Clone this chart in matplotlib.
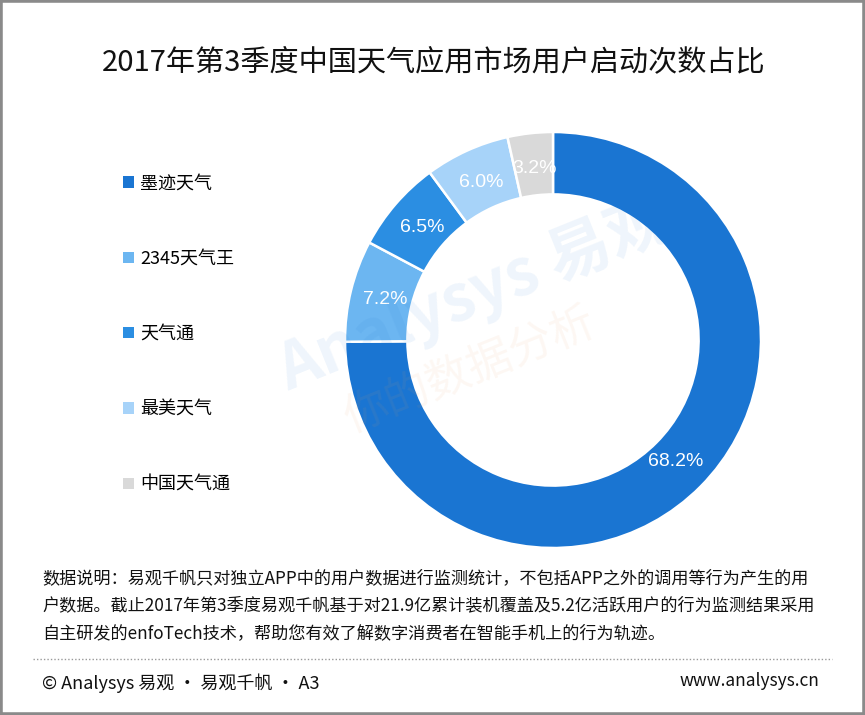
import matplotlib.pyplot as plt
import numpy as np
from matplotlib.patches import Rectangle, Patch
from matplotlib.lines import Line2D

plt.rcParams['font.family'] = ['Noto Sans CJK SC', 'DejaVu Sans']

# data
apps = ['墨迹天气', '2345天气王', '天气通', '最美天气', '中国天气通']
share = [68.2, 7.2, 6.5, 6.0, 3.2]
colors = ['#1a75d2', '#6cb6f1', '#2b8ee2', '#a7d3f9', '#d9d9d9']

title = '2017年第3季度中国天气应用市场用户启动次数占比'
note_lines = ['数据说明：易观千帆只对独立APP中的用户数据进行监测统计，不包括APP之外的调用等行为产生的用',
              '户数据。截止2017年第3季度易观千帆基于对21.9亿累计装机覆盖及5.2亿活跃用户的行为监测结果采用',
              '自主研发的enfoTech技术，帮助您有效了解数字消费者在智能手机上的行为轨迹。']
footer_left = '© Analysys 易观 · 易观千帆 · A3'
footer_right = 'www.analysys.cn'

W, H = 865, 715
fig = plt.figure(figsize=(W/100, H/100), dpi=100)

def fx(px): return px / W
def fy(py): return 1 - py / H

# faint watermark
fig.text(fx(475), fy(295), 'Analysys 易观', fontsize=46, color='#1a75d2', alpha=0.07,
         rotation=22, ha='center', va='center', weight='bold', zorder=0)
fig.text(fx(470), fy(370), '你的数据分析', fontsize=32, color='#e8a060', alpha=0.08,
         rotation=22, ha='center', va='center', zorder=0)

# donut
cx, cy, r = 553, 340, 208
ax = fig.add_axes([fx(cx - r), fy(cy + r), 2*r/W, 2*r/H])
wedges, _ = ax.pie(share, colors=colors, startangle=90, counterclock=False,
                   radius=1.0, wedgeprops=dict(width=0.3, edgecolor='white', linewidth=1.8))
ax.set_xlim(-1, 1)
ax.set_ylim(-1, 1)
ax.set_aspect('equal')
ax.axis('off')

for w, v in zip(wedges, share):
    ang = np.deg2rad((w.theta1 + w.theta2) / 2)
    ax.text(0.83*np.cos(ang), 0.83*np.sin(ang), f'{v:.1f}%', color='white',
            fontsize=14, ha='center', va='center', family='Liberation Sans')

fig.text(fx(434), fy(62), title, fontsize=21, ha='center', va='center', color='#111111')

handles = [Patch(facecolor=w.get_facecolor(), edgecolor='none') for w in wedges]
fig.legend(handles, apps, loc='upper left', bbox_to_anchor=(fx(116), fy(167)),
           frameon=False, fontsize=13, labelspacing=3.18, handlelength=0.6,
           handleheight=0.6, handletextpad=0.35, borderaxespad=0)

for i, line in enumerate(note_lines):
    fig.text(fx(42), fy(578 + i*27.5), line, fontsize=12.35, va='center', ha='left', color='#111111')

fig.add_artist(Line2D([fx(33), fx(832)], [fy(659), fy(659)], color='#999999',
                      linestyle=(0, (1, 1.5)), linewidth=1))
fig.text(fx(42), fy(683), footer_left, fontsize=13, va='center', ha='left', color='#111111')
fig.text(fx(819), fy(681), footer_right, fontsize=12.5, va='center', ha='right', color='#111111')

# outer frame
fig.add_artist(Rectangle((0, 0), 1, 1, transform=fig.transFigure, fill=False,
                         edgecolor='#8a8a8a', linewidth=4))

fig.savefig('out.png', dpi=100)
